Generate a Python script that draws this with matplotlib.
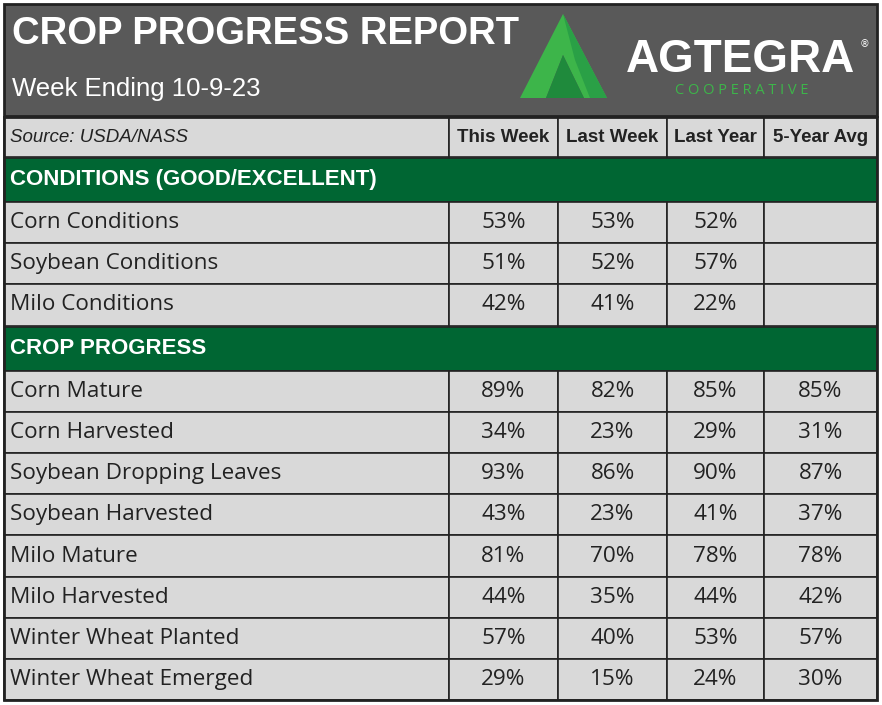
import matplotlib
matplotlib.use("Agg")
import matplotlib.pyplot as plt
from matplotlib.patches import Rectangle, Polygon

columns = ["This Week", "Last Week", "Last Year", "5-Year Avg"]
cond_labels = ["Corn Conditions", "Soybean Conditions", "Milo Conditions"]
cond_this = ["53%", "51%", "42%"]
cond_last = ["53%", "52%", "41%"]
cond_year = ["52%", "57%", "22%"]
cond_avg = ["", "", ""]
prog_labels = ["Corn Mature", "Corn Harvested", "Soybean Dropping Leaves", "Soybean Harvested",
               "Milo Mature", "Milo Harvested", "Winter Wheat Planted", "Winter Wheat Emerged"]
prog_this = ["89%", "34%", "93%", "43%", "81%", "44%", "57%", "29%"]
prog_last = ["82%", "23%", "86%", "23%", "70%", "35%", "40%", "15%"]
prog_year = ["85%", "29%", "90%", "41%", "78%", "44%", "53%", "24%"]
prog_avg = ["85%", "31%", "87%", "37%", "78%", "42%", "57%", "30%"]

NARROW = ["Liberation Sans", "DejaVu Sans"]
BODY = ["Open Sans", "DejaVu Sans"]
GRAY = "#595959"; CELL = "#d9d9d9"; GREEN = "#006633"; EDGE = "#222222"

fig = plt.figure(figsize=(8.82, 7.05), dpi=100)
ax = fig.add_axes([0, 0, 1, 1])
ax.set_xlim(0, 882); ax.set_ylim(705, 0); ax.axis("off")

L, R = 4, 877
xs = [L, 449, 558, 667, 764, R]

def rect(x0, y0, x1, y1, fc, lw=1.2):
    ax.add_patch(Rectangle((x0, y0), x1 - x0, y1 - y0, facecolor=fc, edgecolor=EDGE, lw=lw))

# header
rect(L, 4, R, 116, GRAY, 2)
ax.text(12, 34, "CROP PROGRESS REPORT", color="white", family=NARROW, fontsize=27.5, fontweight="bold", va="center")
ax.text(12, 89, "Week Ending 10-9-23", color="white", family=NARROW, fontsize=18.5, va="center")
# logo
ax.add_patch(Polygon([(520, 98), (563, 14), (607, 98), (584, 98), (563, 55), (546, 98)], color="#3db54a", lw=0))
ax.add_patch(Polygon([(546, 98), (563, 55), (584, 98)], color="#1f8a3c", lw=0))
ax.add_patch(Polygon([(563, 14), (607, 98), (590, 98), (575, 60)], color="#2aa046", lw=0))
ax.text(740, 60, "AGTEGRA", color="white", family=NARROW, fontsize=33, fontweight="bold", va="center", ha="center")
ax.text(860, 44, "®", color="white", fontsize=7, va="center")
ax.text(742, 91, "C O O P E R A T I V E", color="#3db54a", family=BODY, fontsize=10.5, va="center", ha="center")

# column header row
y0, y1 = 117, 157
for i in range(5):
    rect(xs[i], y0, xs[i + 1], y1, CELL)
ax.text(10, (y0 + y1) / 2, "Source: USDA/NASS", family=NARROW, fontsize=13.5, style="italic", va="center", color="#222222")
for i, c in enumerate(columns):
    ax.text((xs[i + 1] + xs[i + 2]) / 2, (y0 + y1) / 2, c, family=NARROW, fontsize=13.5, fontweight="bold",
            va="center", ha="center", color="#222222")

def section(title, ytop, labels, cols):
    rect(L, ytop, R, ytop + 44, GREEN)
    ax.text(10, ytop + 22, title, color="white", family=NARROW, fontsize=16, fontweight="bold", va="center")
    y = ytop + 44
    h = 41.2
    for r, lab in enumerate(labels):
        for i in range(5):
            rect(xs[i], y, xs[i + 1], y + h, CELL)
        ax.text(10, y + h / 2, lab, family=BODY, fontsize=16.2, va="center", color="#222222")
        for i, col in enumerate(cols):
            ax.text((xs[i + 1] + xs[i + 2]) / 2, y + h / 2, col[r], family=BODY, fontsize=16.2,
                    va="center", ha="center", color="#222222")
        y += h
    return y

y = section("CONDITIONS (GOOD/EXCELLENT)", 158, cond_labels, [cond_this, cond_last, cond_year, cond_avg])
y = section("CROP PROGRESS", y + 1, prog_labels, [prog_this, prog_last, prog_year, prog_avg])
ax.add_patch(Rectangle((L, 117), R - L, y - 117, facecolor="none", edgecolor=EDGE, lw=2))

fig.savefig("out.png", dpi=100, facecolor="white")
